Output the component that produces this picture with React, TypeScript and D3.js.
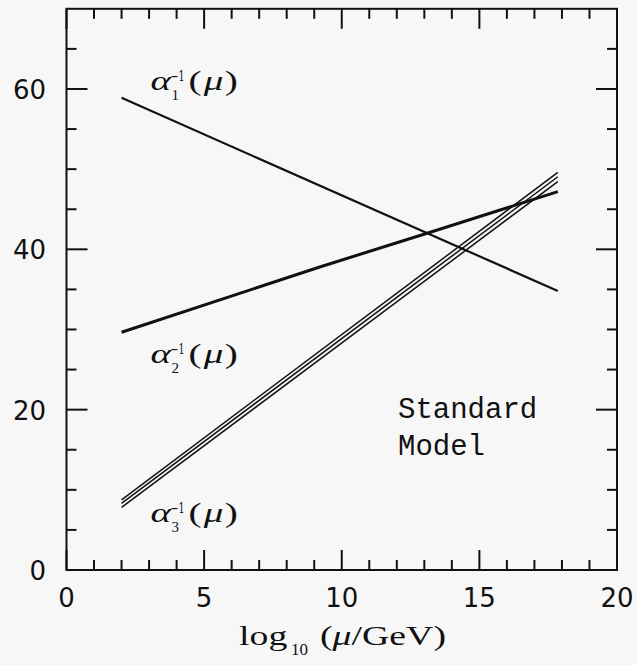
import React from "react";
import { scaleLinear, line } from "d3";

// log10(mu/GeV) sample points and inverse couplings
const alpha1Mu = [2, 17.85];
const alpha1Inv = [58.9, 34.8];
const alpha2Mu = [2, 9.2, 13.1, 17.85];
const alpha2Inv = [29.65, 37.8, 42.0, 47.2];
const alpha3Mu = [2, 17.85];
const alpha3Upper = [8.75, 49.6];
const alpha3Central = [8.3, 49.05];
const alpha3Lower = [7.8, 48.45];

const xMajorTicks = [0, 5, 10, 15, 20];
const xMinorTicks = [1, 2, 3, 4, 6, 7, 8, 9, 11, 12, 13, 14, 16, 17, 18, 19];
const yMajorTicks = [0, 20, 40, 60];
const yMinorTicks = [5, 10, 15, 25, 30, 35, 45, 50, 55, 65];

const curveLabels = [
  { sub: "1", mu: 2, inv: 59.9 },
  { sub: "2", mu: 2, inv: 25.8 },
  { sub: "3", mu: 2, inv: 6.0 },
];
const modelText = ["Standard", "Model"];

const W = 637;
const H = 665;
const STRETCH = 1.4; // the scanned figure is wider than tall

const x = scaleLinear().domain([0, 20]).range([66.5, 617]);
const y = scaleLinear().domain([0, 70]).range([570, 8.8]);

const toPts = (mu: number[], v: number[]) => mu.map((m, i) => [m, v[i]] as [number, number]);
const path = line<[number, number]>()
  .x((d) => x(d[0]))
  .y((d) => y(d[1]));

const serif = "'Liberation Serif', 'DejaVu Serif', serif";
const sans = "'DejaVu Sans', sans-serif";
const mono = "'Liberation Mono', 'DejaVu Sans Mono', monospace";

function AlphaLabel({ px, py, sub }: { px: number; py: number; sub: string }) {
  return (
    <g fill="#111" fontFamily={serif}>
      <g transform={`translate(${px},${py}) scale(${STRETCH},1)`}>
        <text x={0} y={0} fontSize={28} fontStyle="italic">
          α
        </text>
      </g>
      <text
        x={px + 20}
        y={py - 9}
        fontSize={14}
        fontFamily="'DejaVu Serif', serif"
        textLength={14}
        lengthAdjust="spacingAndGlyphs"
      >
        −1
      </text>
      <text x={px + 21} y={py + 10} fontSize={15}>
        {sub}
      </text>
      <g transform={`translate(${px + 38},${py}) scale(${STRETCH},1)`}>
        <text x={0} y={0} fontSize={28}>
          (<tspan fontStyle="italic" dx={1.5}>μ</tspan>
          <tspan dx={1}>)</tspan>
        </text>
      </g>
    </g>
  );
}

export default function App() {
  const left = x(0);
  const right = x(20);
  const top = y(70);
  const bottom = y(0);
  return (
    <svg
      width={W}
      height={H}
      style={{ position: "absolute", left: 0, top: 0, display: "block" }}
    >
      <rect x={0} y={0} width={W} height={H} fill="#f7f7f7" />

      {/* frame */}
      <rect x={left} y={top} width={right - left} height={bottom - top} fill="none" stroke="#111" strokeWidth={2} />

      {/* ticks on all four sides, pointing inward */}
      <g stroke="#111" strokeWidth={2}>
        {xMajorTicks.map((t) => (
          <g key={"xM" + t}>
            <line x1={x(t)} x2={x(t)} y1={bottom} y2={bottom - 20} />
            <line x1={x(t)} x2={x(t)} y1={top} y2={top + 20} />
          </g>
        ))}
        {xMinorTicks.map((t) => (
          <g key={"xm" + t}>
            <line x1={x(t)} x2={x(t)} y1={bottom} y2={bottom - 10} />
            <line x1={x(t)} x2={x(t)} y1={top} y2={top + 10} />
          </g>
        ))}
        {yMajorTicks.map((t) => (
          <g key={"yM" + t}>
            <line x1={left} x2={left + 21} y1={y(t)} y2={y(t)} />
            <line x1={right} x2={right - 21} y1={y(t)} y2={y(t)} />
          </g>
        ))}
        {yMinorTicks.map((t) => (
          <g key={"ym" + t}>
            <line x1={left} x2={left + 10} y1={y(t)} y2={y(t)} />
            <line x1={right} x2={right - 10} y1={y(t)} y2={y(t)} />
          </g>
        ))}
      </g>

      {/* tick labels */}
      <g fontFamily={sans} fontSize={26} fill="#111">
        {xMajorTicks.map((t) => (
          <text key={"xl" + t} x={x(t)} y={607} textAnchor="middle">
            {t}
          </text>
        ))}
        {yMajorTicks.map((t) => (
          <text key={"yl" + t} x={46} y={y(t) + 10} textAnchor="end">
            {t}
          </text>
        ))}
      </g>

      {/* curves */}
      <g fill="none" stroke="#111" strokeLinecap="butt">
        <path d={path(toPts(alpha1Mu, alpha1Inv)) ?? ""} strokeWidth={2.2} />
        <path d={path(toPts(alpha2Mu, alpha2Inv)) ?? ""} strokeWidth={3} />
        <path d={path(toPts(alpha3Mu, alpha3Upper)) ?? ""} strokeWidth={1.5} />
        <path d={path(toPts(alpha3Mu, alpha3Central)) ?? ""} strokeWidth={1.5} />
        <path d={path(toPts(alpha3Mu, alpha3Lower)) ?? ""} strokeWidth={1.5} />
      </g>

      {/* curve labels */}
      {curveLabels.map((l) => (
        <AlphaLabel key={l.sub} px={x(l.mu) + 29} py={y(l.inv)} sub={l.sub} />
      ))}

      {/* Standard Model */}
      <g fontFamily={mono} fontSize={29} fill="#111">
        {modelText.map((s, i) => (
          <text key={s} x={398} y={418 + i * 37}>
            {s}
          </text>
        ))}
      </g>

      {/* x-axis title */}
      <g fontFamily={serif} fill="#111">
        <g transform={`translate(239,645) scale(${STRETCH},1)`}>
          <text x={0} y={0} fontSize={27}>
            log
          </text>
        </g>
        <text x={291} y={655} fontSize={17}>
          10
        </text>
        <g transform={`translate(320,645) scale(${STRETCH},1)`}>
          <text x={0} y={0} fontSize={27}>
            (<tspan fontStyle="italic">μ</tspan>/GeV)
          </text>
        </g>
      </g>
    </svg>
  );
}
